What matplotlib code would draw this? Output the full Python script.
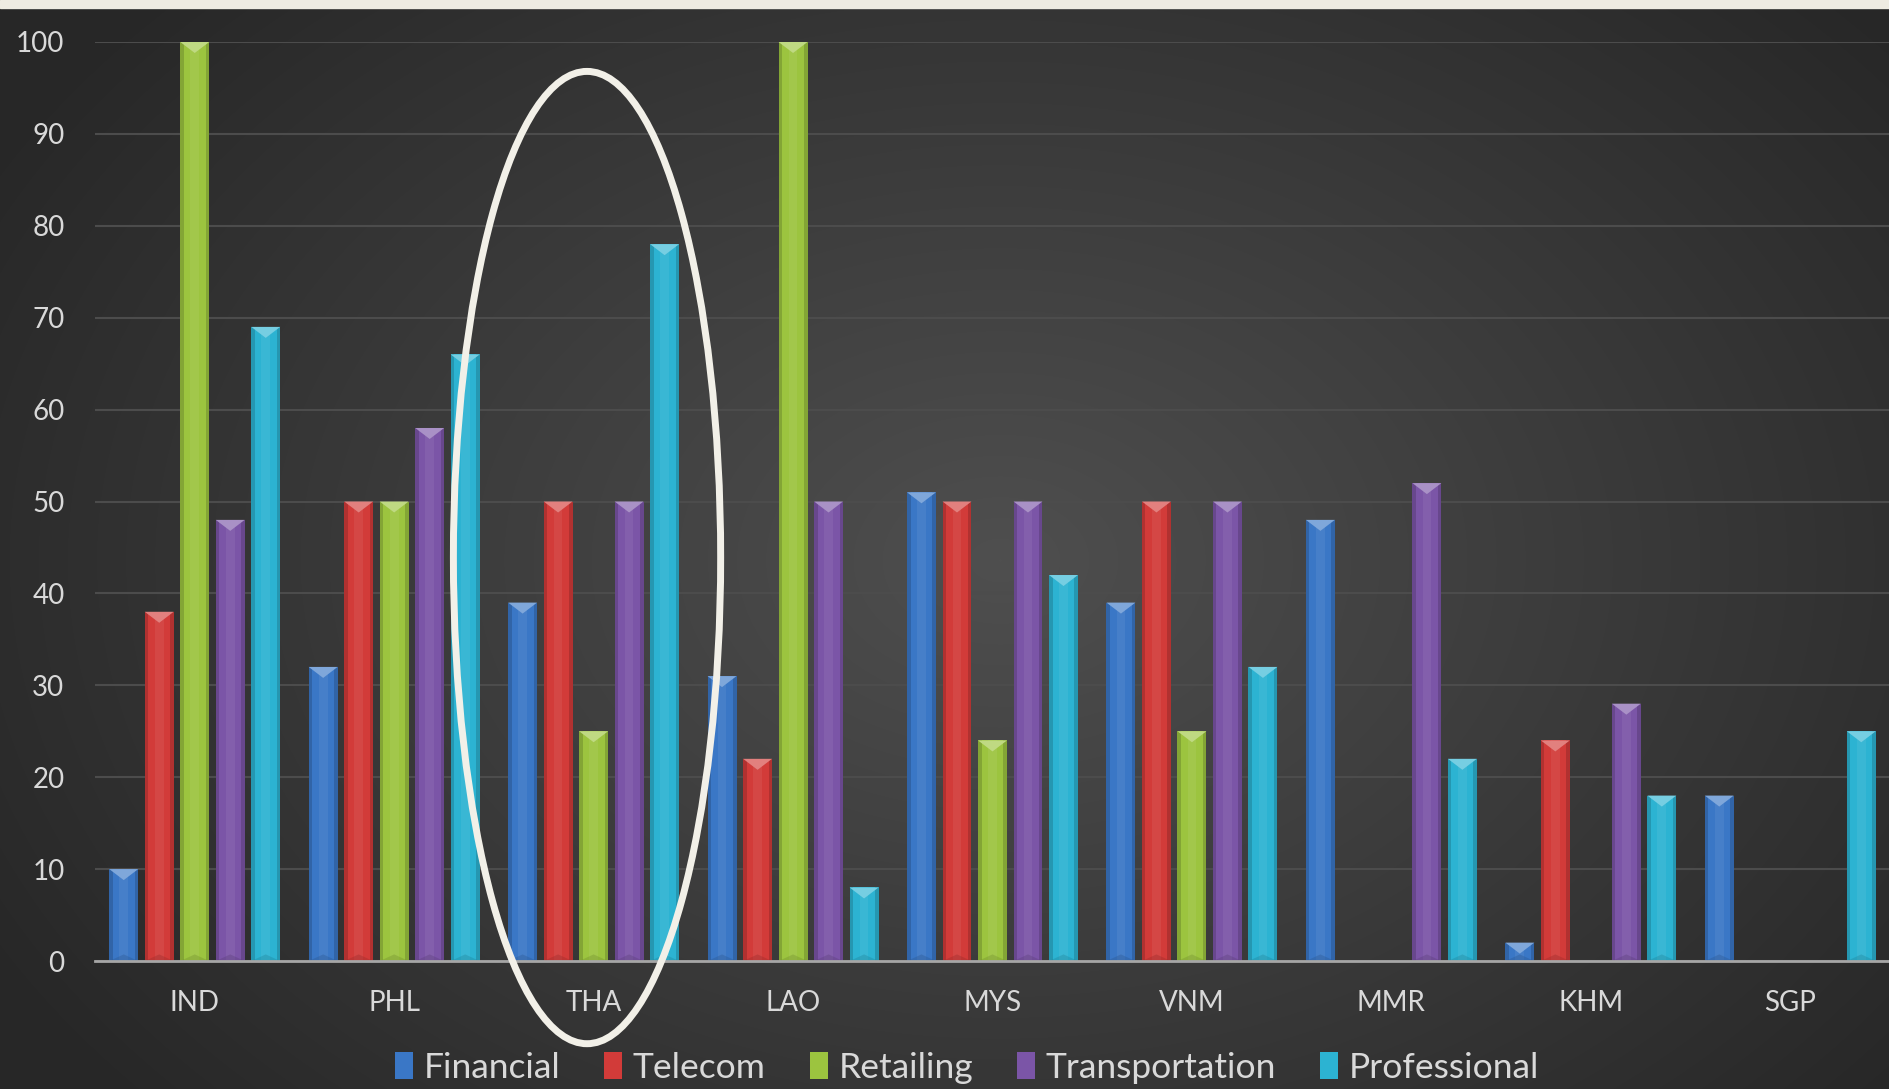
import numpy as np
import matplotlib
matplotlib.use("Agg")
import matplotlib.pyplot as plt
from matplotlib.patches import Ellipse, Polygon, Rectangle
import matplotlib.colors as mcolors

plt.rcParams['font.family'] = ['Lato', 'DejaVu Sans']

countries = ['IND', 'PHL', 'THA', 'LAO', 'MYS', 'VNM', 'MMR', 'KHM', 'SGP']
series_names = ['Financial', 'Telecom', 'Retailing', 'Transportation', 'Professional']
financial = [10, 32, 39, 31, 51, 39, 48, 2, 18]
telecom = [38, 50, 50, 22, 50, 50, 0, 24, 0]
retailing = [100, 50, 25, 100, 24, 25, 0, 0, 0]
transportation = [48, 58, 50, 50, 50, 50, 52, 28, 0]
professional = [69, 66, 78, 8, 42, 32, 22, 18, 25]
colors = ['#3a77c6', '#d23b39', '#9cc43f', '#7b55a7', '#2cb3d2']

W, H = 1890, 1089
fig = plt.figure(figsize=(W / 100, H / 100), dpi=100)

# background: radial gradient + beige strip on top
bg = fig.add_axes([0, 0, 1, 1], zorder=-10)
yy, xx = np.mgrid[0:H, 0:W]
r = np.sqrt(((xx - 1000) / 1150.0) ** 2 + ((yy - 560) / 820.0) ** 2)
r = np.clip(r, 0, 1)
dark = np.array([0.155, 0.155, 0.155])
light = np.array([0.31, 0.31, 0.31])
img = light[None, None, :] * (1 - r[..., None]) + dark[None, None, :] * r[..., None]
bg.imshow(img, extent=[0, W, H, 0], aspect='auto')
bg.add_patch(Rectangle((0, 0), W, 8, color='#eeebe2'))
bg.set_xlim(0, W)
bg.set_ylim(H, 0)
bg.axis('off')

ax = fig.add_axes([95 / W, (H - 961) / H, 1 - 95 / W, (961 - 42) / H])
ax.set_facecolor('none')
ax.set_xlim(-0.5, len(countries) - 0.5)
ax.set_ylim(0, 100)

x = np.arange(len(countries))
slot = 0.178
bw = 0.145
all_series = [financial, telecom, retailing, transportation, professional]

# pixel -> data conversion for bevel depth
ax_h_px = 961 - 42
unit_per_px = 100.0 / ax_h_px
cap = 11 * unit_per_px

containers = []
for i, (vals, name, c) in enumerate(zip(all_series, series_names, colors)):
    pos = x + (i - 2) * slot
    bars = ax.bar(pos, vals, width=bw, color=c, label=name, zorder=3, clip_on=False)
    containers.append(bars)
    base = np.array(mcolors.to_rgb(c))
    darker = base * 0.72
    lighter = base + (1 - base) * 0.35
    for p in bars:
        h = p.get_height()
        if h <= 0:
            continue
        x0, w = p.get_x(), p.get_width()
        e = w * 0.12
        ax.add_patch(Rectangle((x0, 0), e, h, color=darker, alpha=0.55, lw=0, zorder=4, clip_on=False))
        ax.add_patch(Rectangle((x0 + w - e, 0), e, h, color=darker, alpha=0.55, lw=0, zorder=4, clip_on=False))
        ax.add_patch(Rectangle((x0 + w * 0.35, 0), w * 0.3, h, color=lighter, alpha=0.18, lw=0, zorder=4, clip_on=False))
        d = min(cap, h)
        ax.add_patch(Polygon([(x0, h), (x0 + w, h), (x0 + w / 2, h - d)], closed=True,
                             color=lighter, lw=0, zorder=5, clip_on=False))
        db = min(cap * 0.6, h / 2)
        ax.add_patch(Polygon([(x0, 0), (x0 + w, 0), (x0 + w / 2, db)], closed=True,
                             color=darker, alpha=0.35, lw=0, zorder=5, clip_on=False))

ax.set_yticks(np.arange(0, 101, 10))
ax.yaxis.grid(True, color='#4c4c4c', lw=1.5, zorder=0)
ax.set_axisbelow(True)
for s in ['top', 'right', 'left']:
    ax.spines[s].set_visible(False)
ax.spines['bottom'].set_color('#a6a6a6')
ax.spines['bottom'].set_linewidth(2)
ax.spines['bottom'].set_zorder(6)
ax.set_xticks(x)
ax.set_xticklabels(countries)
ax.tick_params(axis='both', length=0, colors='#d9d9d9')
ax.tick_params(axis='y', labelsize=20, pad=22)
ax.tick_params(axis='x', labelsize=20, pad=21)

# highlight ellipse around THA
ax.add_patch(Ellipse((1.967, 43.9), 1.34, 105.8, fill=False, ec='#f2f0e8', lw=5,
                     zorder=7, clip_on=False))

leg = fig.legend(handles=containers, labels=series_names, loc='center',
                 bbox_to_anchor=(967 / W, 1 - 1068 / H), ncol=5, frameon=False,
                 fontsize=25.5, labelcolor='#d9d9d9', handlelength=0.5, handleheight=0.8,
                 handletextpad=0.3, columnspacing=1.25)

fig.savefig('out.png', dpi=100)
